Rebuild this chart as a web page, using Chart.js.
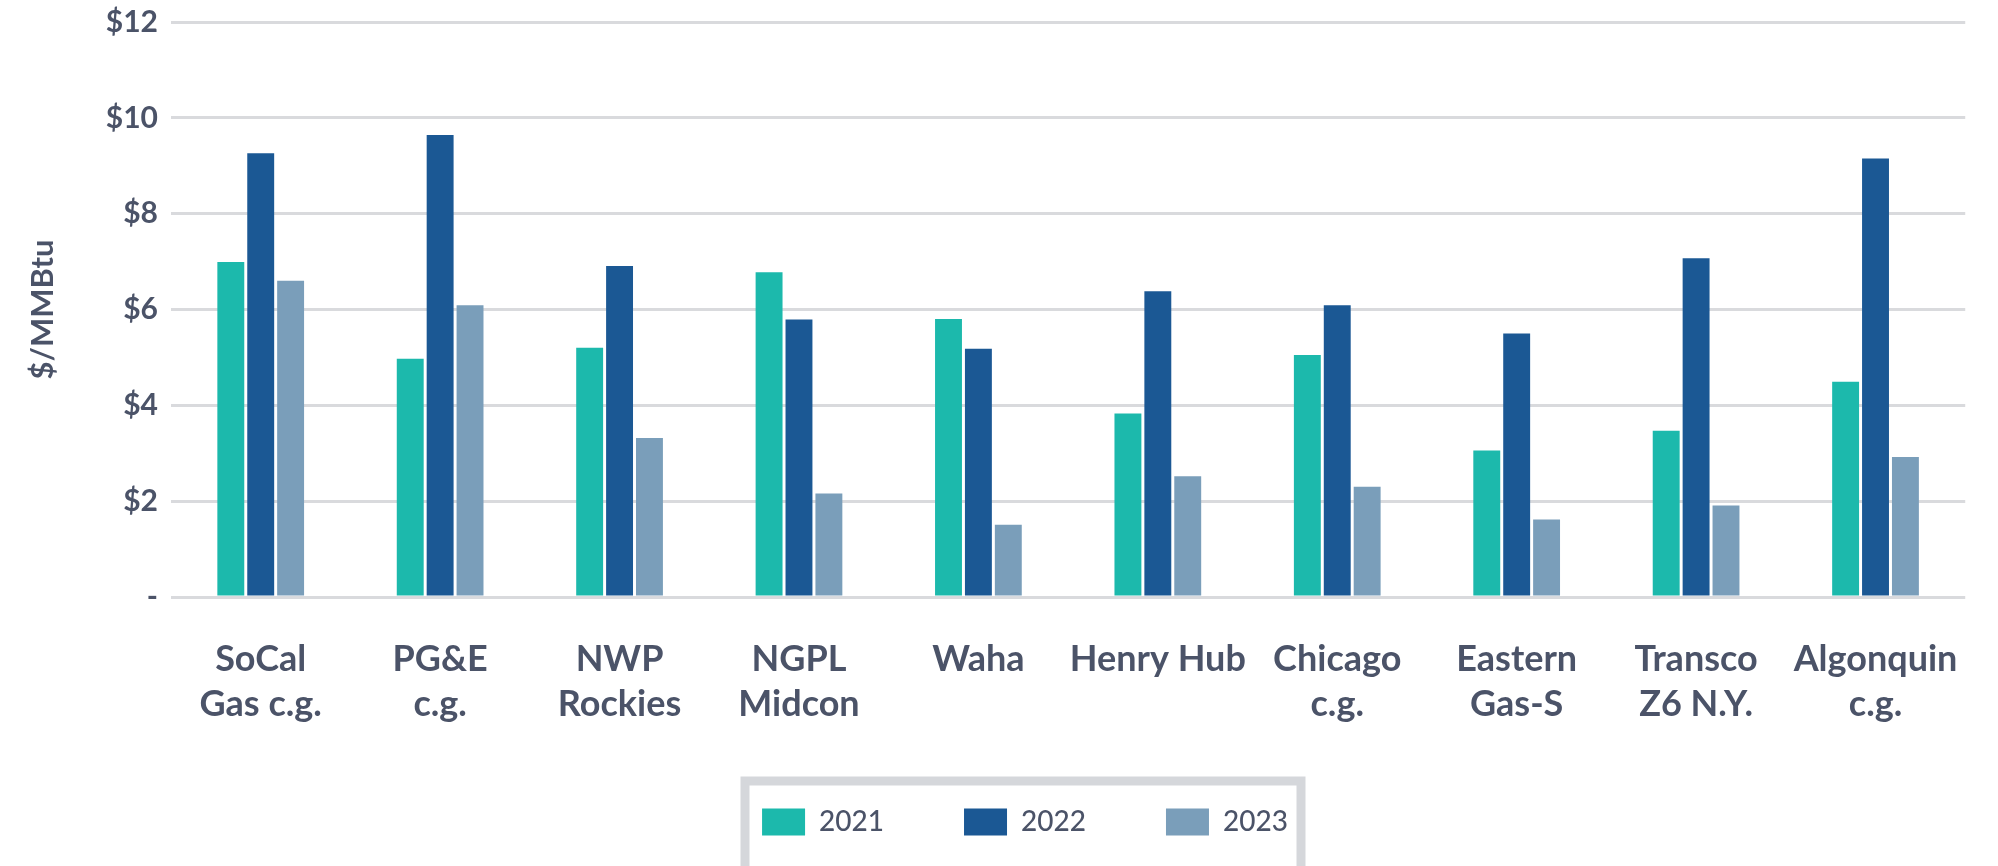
<!DOCTYPE html>
<html>
<head>
<meta charset="utf-8">
<script src="https://cdn.jsdelivr.net/npm/chart.js@4"></script>
<style>
  html, body { margin: 0; padding: 0; background: #fff; }
  #wrap { width: 1998px; height: 866px; position: relative; }
</style>
</head>
<body>
<div id="wrap"><canvas id="chart"></canvas></div>
<script>
// Hub names (x categories)
const hubs = [
  ['SoCal', 'Gas c.g.'],
  ['PG&E', 'c.g.'],
  ['NWP', 'Rockies'],
  ['NGPL', 'Midcon'],
  'Waha',
  'Henry Hub',
  ['Chicago', 'c.g.'],
  ['Eastern', 'Gas-S'],
  ['Transco', 'Z6 N.Y.'],
  ['Algonquin', 'c.g.'],
];

// Average prices, $/MMBtu
const prices2021 = [6.99, 4.97, 5.20, 6.78, 5.80, 3.83, 5.05, 3.06, 3.47, 4.49];
const prices2022 = [9.26, 9.64, 6.91, 5.79, 5.18, 6.38, 6.09, 5.50, 7.07, 9.15];
const prices2023 = [6.60, 6.09, 3.32, 2.16, 1.51, 2.52, 2.30, 1.62, 1.91, 2.92];

const yTicks = [0, 2, 4, 6, 8, 10, 12];

const TEXT = '#4b5368';
const FONT = 'Lato, "Open Sans", sans-serif';

// Grey frame around the legend, and nudge legend to match the original
const legendFrame = {
  id: 'legendFrame',
  afterLayout(chart) {
    chart.legend.left += 32;
    chart.legend.right += 32;
  },
  afterDraw(chart) {
    const { ctx } = chart;
    ctx.save();
    ctx.strokeStyle = '#d5d7db';
    ctx.lineWidth = 9;
    ctx.strokeRect(745, 781, 556, 100);
    ctx.restore();
  },
};

const ctx = document.getElementById('chart').getContext('2d');
new Chart(ctx, {
  type: 'bar',
  data: {
    labels: hubs,
    datasets: [
      { label: '2021', data: prices2021, backgroundColor: '#1cb9ac' },
      { label: '2022', data: prices2022, backgroundColor: '#1b5894' },
      { label: '2023', data: prices2023, backgroundColor: '#7a9eba' },
    ],
  },
  options: {
    responsive: true,
    maintainAspectRatio: false,
    animation: false,
    devicePixelRatio: 1,
    layout: { padding: { top: 12, right: 12, bottom: 20, left: 0 } },
    datasets: {
      bar: { categoryPercentage: 0.5, barPercentage: 0.9 },
    },
    scales: {
      x: {
        grid: { display: false, drawTicks: false },
        border: { display: false },
        ticks: {
          color: TEXT,
          padding: 40,
          maxRotation: 0,
          autoSkip: false,
          font: { family: FONT, size: 36, weight: 'bold', lineHeight: 1.25 },
        },
        afterFit(scale) { scale.height = 131; },
      },
      y: {
        min: 0,
        max: 12,
        afterBuildTicks(scale) { scale.ticks = yTicks.map((v) => ({ value: v })); },
        grid: { color: '#d9dadd', lineWidth: 3, drawTicks: false },
        border: { display: false },
        ticks: {
          color: TEXT,
          padding: 13,
          font: { family: FONT, size: 30, weight: 'bold', lineHeight: 0.6 },
          callback: (v) => (v === 0 ? '-' : `$${v}`),
        },
        title: {
          display: true,
          text: '$/MMBtu',
          color: TEXT,
          padding: { top: 24, bottom: 0 },
          font: { family: FONT, size: 31, weight: 'bold' },
        },
        afterFit(scale) { scale.width = 171; },
      },
    },
    plugins: {
      legend: {
        position: 'bottom',
        labels: {
          color: TEXT,
          boxWidth: 43,
          boxHeight: 27,
          padding: 80,
          font: { family: FONT, size: 28, weight: '500' },
        },
      },
      tooltip: { enabled: false },
    },
  },
  plugins: [legendFrame],
});
</script>
</body>
</html>
